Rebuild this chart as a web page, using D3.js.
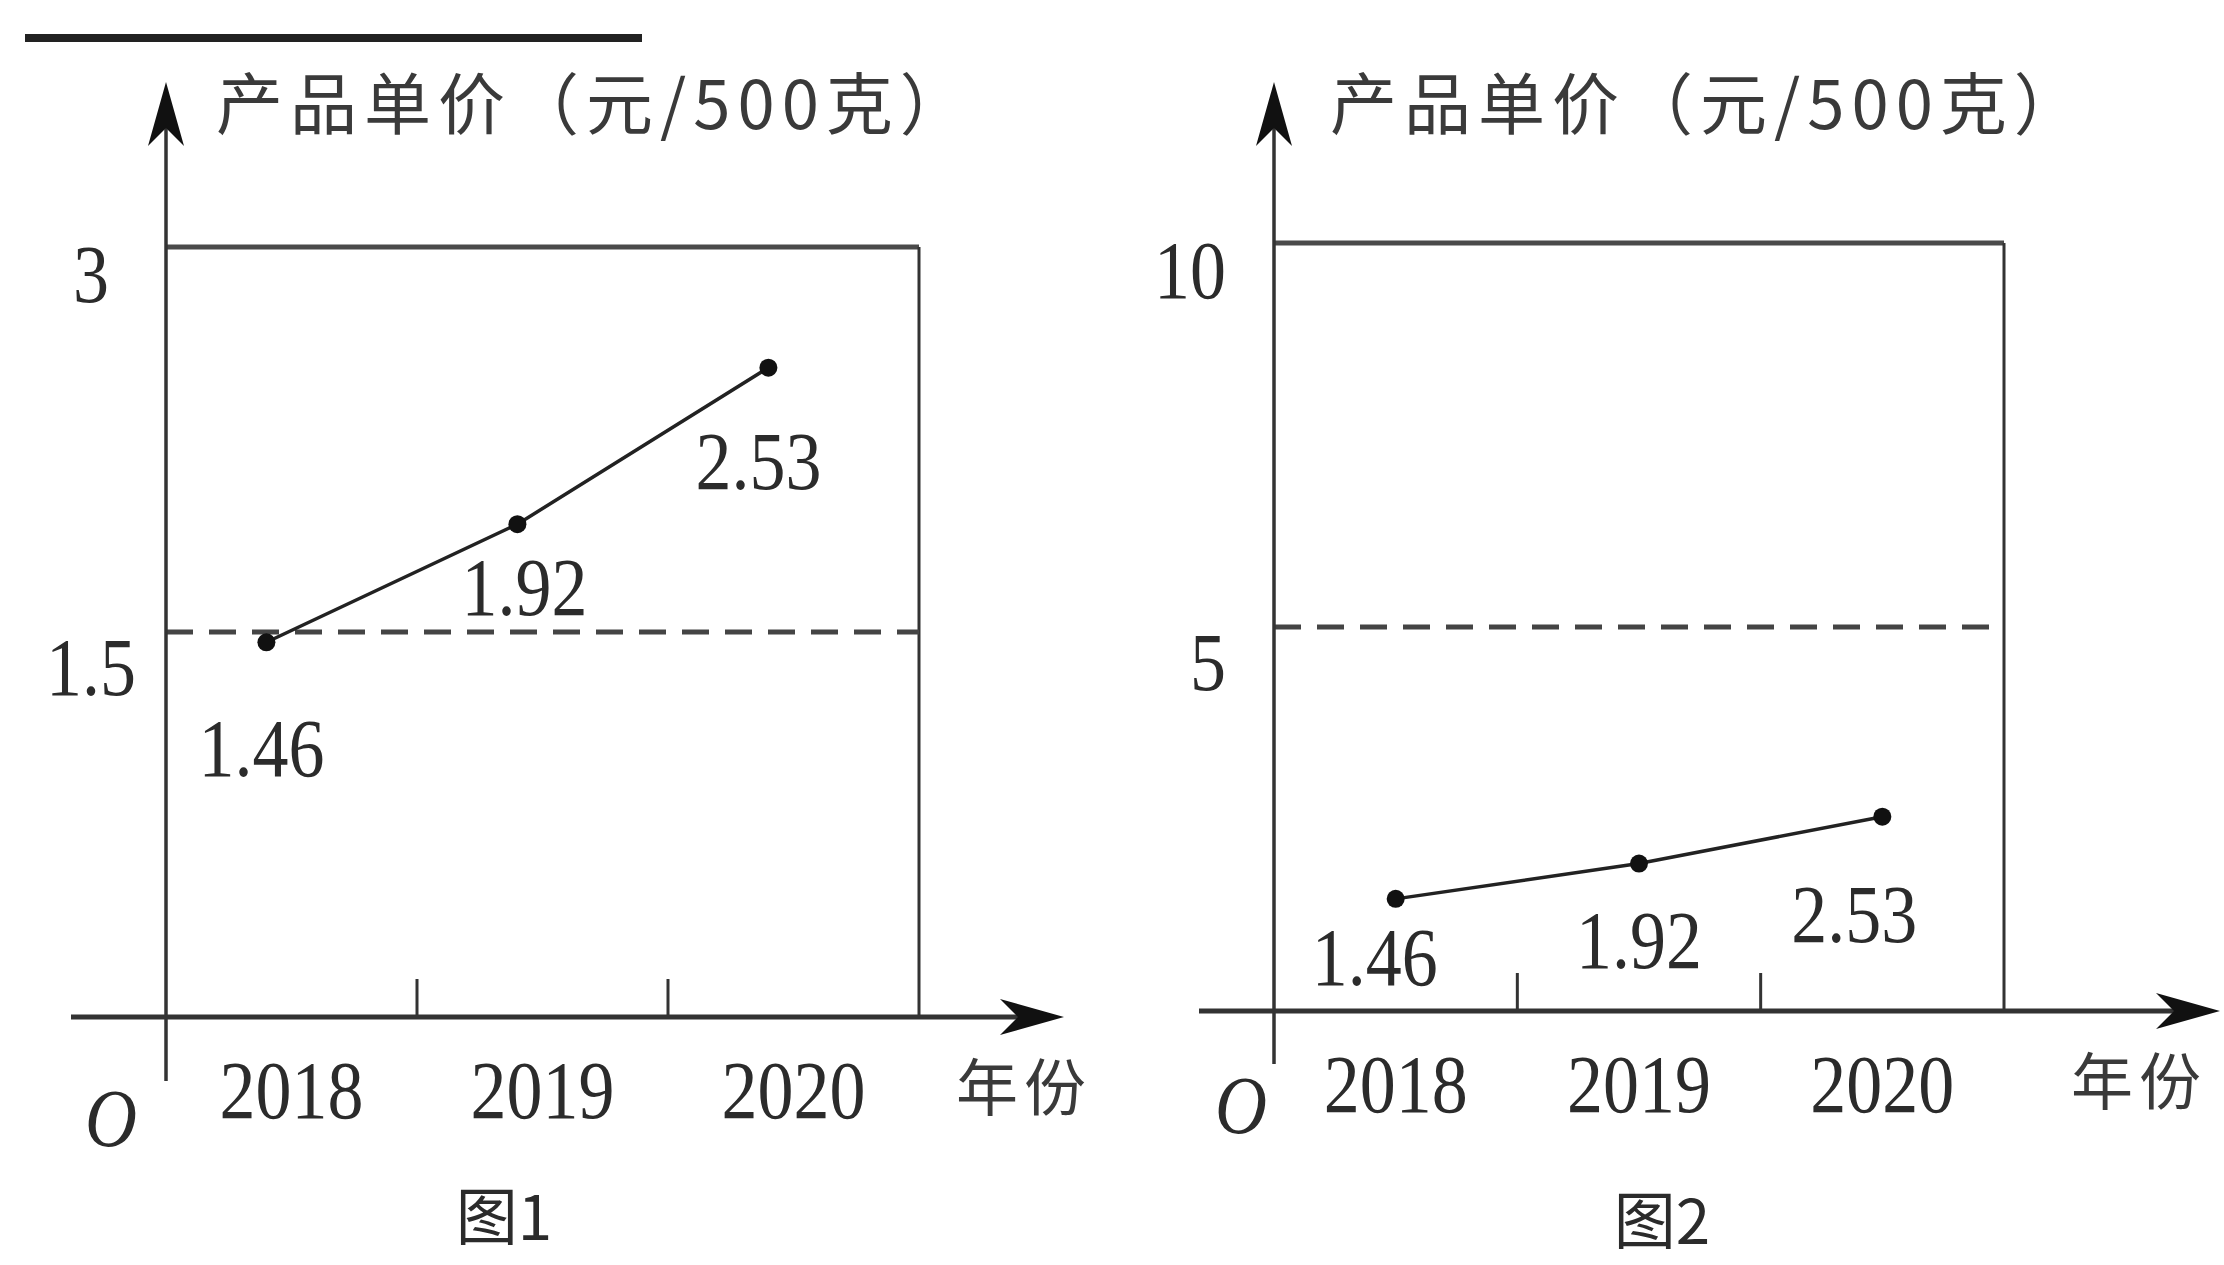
<!DOCTYPE html>
<html>
<head>
<meta charset="utf-8">
<script src="https://cdn.jsdelivr.net/npm/d3@7"></script>
<style>
  html, body { margin: 0; padding: 0; background: #fff; }
  svg { display: block; }
</style>
</head>
<body>
<svg id="chart" width="2224" height="1265"></svg>
<script>
(() => {

    // data
    var years = ["2018", "2019", "2020"];
    var prices = [1.46, 1.92, 2.53];
    var priceLabels = ["1.46", "1.92", "2.53"];
    var yTop = [3, 10];          // top line of each box
    var yRef = [1.5, 5];         // dashed reference line
    var yTopLabels = ["3", "10"];
    var yRefLabels = ["1.5", "5"];
    var figNames = ["图1", "图2"];
    var yTitle = "产品单价（元/500克）";
    var xTitle = "年份";

    // layout of the two panels (pixels)
    var panels = [
        { ox: 166, oy: 1017, right: 919, top: 247, xLeft: 71, xTip: 1064, yTip: 82, yLow: 1081,
          shift: -0.1, tickLabelX: 91, tickAnchor: "middle", xTitleX: 1024, oPos: [111, 1117], titleX: 216,
          figPos: [504, 1218], lab: [[-5, 105], [7, 62], [-10, 92]] },
        { ox: 1274, oy: 1011, right: 2004, top: 243, xLeft: 1199, xTip: 2220, yTip: 82, yLow: 1064,
          shift: 0, tickLabelX: 1226, tickAnchor: "end", xTitleX: 2139, oPos: [1241, 1104], titleX: 1330,
          figPos: [1662, 1222], lab: [[-21, 57], [0, 75], [-28, 96]] }
    ];

    var svg = d3.select("#chart");
    var ink = "#2b2b2b";
    var serif = "'Liberation Serif', 'DejaVu Serif', serif";
    var cjk = "'Noto Sans CJK SC', sans-serif";

    // decorative rule at the top left
    svg.append("line")
        .attr("x1", 25).attr("x2", 642).attr("y1", 38).attr("y2", 38)
        .attr("stroke", "#222").attr("stroke-width", 8);

    // number text, a little taller than the font
    function num(g, x, y, txt, anchor, italic) {
        g.append("text")
            .attr("transform", "translate(" + [x, y] + ") scale(1,1.15)")
            .attr("dy", "0.35em")
            .attr("text-anchor", anchor || "middle")
            .attr("font-family", serif)
            .attr("font-size", 72)
            .attr("font-style", italic ? "italic" : "normal")
            .attr("fill", ink)
            .text(txt);
    }

    function arrowY(x, y) {
        return "M" + x + "," + y + " L" + (x + 18) + "," + (y + 64) + " L" + x + "," + (y + 46) +
            " L" + (x - 18) + "," + (y + 64) + " Z";
    }
    function arrowX(x, y) {
        return "M" + x + "," + y + " L" + (x - 64) + "," + (y - 18) + " L" + (x - 46) + "," + y +
            " L" + (x - 64) + "," + (y + 18) + " Z";
    }

    panels.forEach(function (p, i) {
        var g = svg.append("g");

        var x = d3.scaleBand().domain(years).range([p.ox, p.right]).paddingInner(0).paddingOuter(0);
        var y = d3.scaleLinear().domain([0, yTop[i]]).range([p.oy, p.top]);

        // box: top line and right side
        g.append("line")
            .attr("x1", p.ox).attr("x2", p.right)
            .attr("y1", y(yTop[i])).attr("y2", y(yTop[i]))
            .attr("stroke", "#4a4a4a").attr("stroke-width", 5);
        g.append("line")
            .attr("x1", p.right).attr("x2", p.right)
            .attr("y1", y(yTop[i])).attr("y2", p.oy)
            .attr("stroke", "#333").attr("stroke-width", 3);

        // dashed reference line
        g.append("line")
            .attr("x1", p.ox).attr("x2", p.right)
            .attr("y1", y(yRef[i])).attr("y2", y(yRef[i]))
            .attr("stroke", "#444").attr("stroke-width", 5)
            .attr("stroke-dasharray", "27,16");

        // year separators on the x axis
        years.slice(1).forEach(function (yr) {
            g.append("line")
                .attr("x1", x(yr)).attr("x2", x(yr))
                .attr("y1", p.oy).attr("y2", p.oy - 38)
                .attr("stroke", "#333").attr("stroke-width", 3);
        });

        // axes
        g.append("line")
            .attr("x1", p.ox).attr("x2", p.ox)
            .attr("y1", p.yLow).attr("y2", p.yTip + 40)
            .attr("stroke", "#333").attr("stroke-width", 3.5);
        g.append("path").attr("d", arrowY(p.ox, p.yTip)).attr("fill", "#111");
        g.append("line")
            .attr("x1", p.xLeft).attr("x2", p.xTip - 40)
            .attr("y1", p.oy).attr("y2", p.oy)
            .attr("stroke", "#333").attr("stroke-width", 5);
        g.append("path").attr("d", arrowX(p.xTip, p.oy)).attr("fill", "#111");

        // y labels
        num(g, p.tickLabelX, y(yTop[i]) + 26, yTopLabels[i], p.tickAnchor);
        num(g, p.tickLabelX, y(yRef[i]) + 34, yRefLabels[i], p.tickAnchor);

        // year labels
        years.forEach(function (yr) {
            num(g, x(yr) + x.bandwidth() / 2, p.oy + 72, yr);
        });

        // origin
        num(g, p.oPos[0], p.oPos[1], "O", "middle", true);

        // titles
        g.append("text")
            .attr("x", p.titleX).attr("y", 106).attr("dy", "0.35em")
            .attr("font-family", cjk).attr("font-size", 67)
            .attr("letter-spacing", 7)
            .attr("fill", "#3a3a3a")
            .text(yTitle);
        g.append("text")
            .attr("x", p.xTitleX).attr("y", p.oy + 72).attr("dy", "0.35em")
            .attr("text-anchor", "middle")
            .attr("font-family", cjk).attr("font-size", 62)
            .attr("letter-spacing", 6)
            .attr("fill", "#3a3a3a")
            .text(xTitle);
        g.append("text")
            .attr("x", p.figPos[0]).attr("y", p.figPos[1]).attr("dy", "0.35em")
            .attr("text-anchor", "middle")
            .attr("font-family", cjk).attr("font-size", 62)
            .attr("fill", ink)
            .text(figNames[i]);

        // the price line
        var px = function (d, j) { return x(years[j]) + x.bandwidth() * (0.5 + p.shift); };
        var line = d3.line()
            .x(px)
            .y(function (d) { return y(d); });

        g.append("path")
            .datum(prices)
            .attr("d", line)
            .attr("fill", "none")
            .attr("stroke", "#222")
            .attr("stroke-width", 3.5);

        g.selectAll(".dot" + i)
            .data(prices)
            .enter().append("circle")
            .attr("r", 9)
            .attr("cx", px)
            .attr("cy", function (d) { return y(d); })
            .attr("fill", "#111");

        prices.forEach(function (d, j) {
            num(g, px(d, j) + p.lab[j][0], y(d) + p.lab[j][1], priceLabels[j]);
        });
    });

})();
</script>
</body>
</html>
